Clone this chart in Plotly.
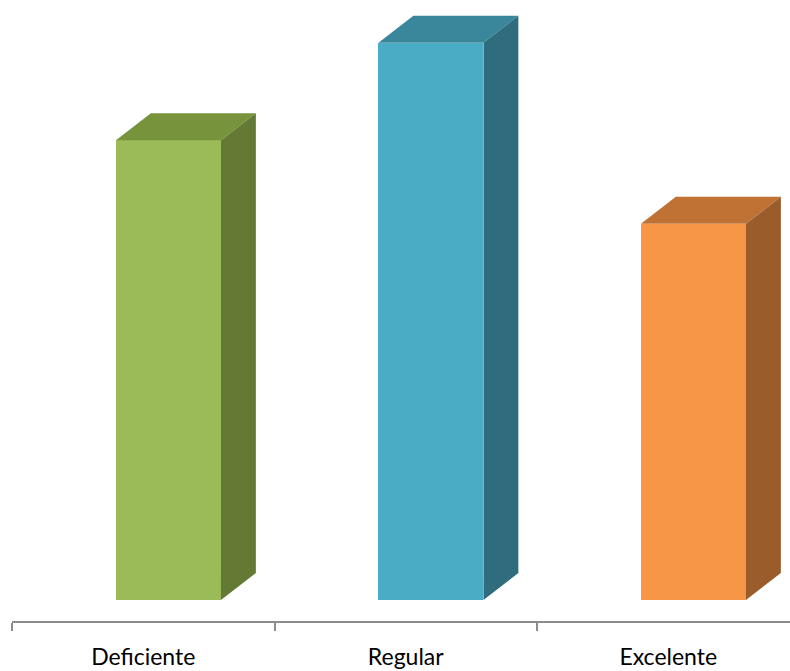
import plotly.graph_objects as go

# Survey results by rating
categories = ["Deficiente", "Regular", "Excelente"]
values = [33, 40, 27]

front_colors = ["#9BBB59", "#4BACC6", "#F79646"]
top_colors = ["#77933C", "#3A879C", "#BF7233"]
side_colors = ["#647A34", "#2F6D7E", "#9A5C2A"]

# 3D look: front face geometry and depth offset in data units
FRONT_SHIFT = 0.096
FRONT_WIDTH = 0.40
DEPTH_X = 0.133
DEPTH_Y = 1.94

fig = go.Figure()

xs = [i + FRONT_SHIFT for i in range(len(categories))]

fig.add_trace(go.Bar(
    x=xs, y=values, width=FRONT_WIDTH,
    marker=dict(color=front_colors, line=dict(width=0)),
    hoverinfo="skip", showlegend=False,
))

for xc, v, tc, sc in zip(xs, values, top_colors, side_colors):
    x0 = xc - FRONT_WIDTH / 2
    x1 = xc + FRONT_WIDTH / 2
    # top face
    fig.add_trace(go.Scatter(
        x=[x0, x1, x1 + DEPTH_X, x0 + DEPTH_X, x0],
        y=[v, v, v + DEPTH_Y, v + DEPTH_Y, v],
        fill="toself", fillcolor=tc, mode="lines",
        line=dict(width=0, color=tc), hoverinfo="skip", showlegend=False,
    ))
    # side face
    fig.add_trace(go.Scatter(
        x=[x1, x1 + DEPTH_X, x1 + DEPTH_X, x1, x1],
        y=[0, DEPTH_Y, v + DEPTH_Y, v, 0],
        fill="toself", fillcolor=sc, mode="lines",
        line=dict(width=0, color=sc), hoverinfo="skip", showlegend=False,
    ))

fig.update_layout(
    width=790, height=671,
    margin=dict(l=12, r=0, t=0, b=50, autoexpand=False),
    paper_bgcolor="white", plot_bgcolor="white",
    bargap=0,
    font=dict(family="Lato, Open Sans, sans-serif", color="#000000"),
)

fig.update_xaxes(
    range=[-0.5, 2.4638],
    tickvals=list(range(len(categories))),
    ticktext=categories,
    ticks="",
    tickfont=dict(size=23, color="#000000"),
    ticklabelstandoff=14,
    automargin=False,
    showgrid=False, zeroline=False,
    showline=True, linecolor="#8C8C8C", linewidth=2,
    minor=dict(tickvals=[-0.5, 0.5, 1.5, 2.5], ticks="outside",
               ticklen=8, tickwidth=2, tickcolor="#8C8C8C", showgrid=False),
    fixedrange=True,
)
fig.update_yaxes(
    range=[-1.508, 43.07],
    visible=False, showgrid=False, zeroline=False, fixedrange=True,
    automargin=False,
)

fig.write_html("out.html")
